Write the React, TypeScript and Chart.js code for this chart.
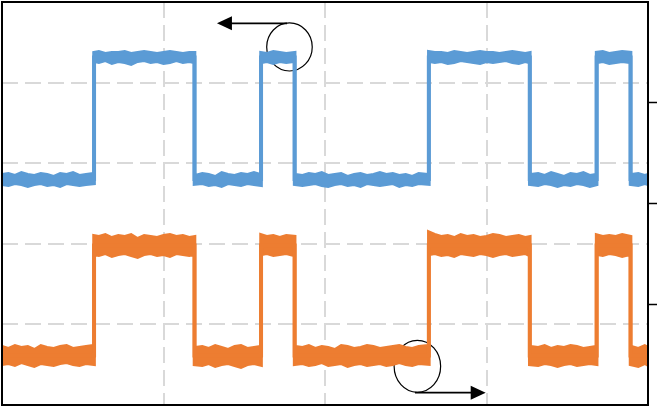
import { useEffect, useRef } from 'react';
import { Chart, registerables } from 'chart.js';

Chart.register(...registerables);

// ---- time samples (x axis, 0..400) ----
const upperTime = [
  0, 4, 8, 12, 16, 20, 24, 28, 32, 36, 40, 44, 48, 52, 56.5,
  56.5, 60, 64, 68, 72, 76, 80, 84, 88, 92, 96, 100, 104, 108, 112, 116, 119.7,
  119.7, 124, 128, 132, 136, 140, 144, 148, 152, 156, 159.9,
  159.9, 164, 168, 172, 176, 181.7,
  181.7, 186, 190, 194, 198, 202, 206, 210, 214, 218, 222, 226, 230, 234, 238, 242, 246, 250, 254, 258, 263.8,
  263.8, 268, 272, 276, 280, 284, 288, 292, 296, 300, 304, 308, 312, 316, 320, 324, 327.3,
  327.3, 332, 336, 340, 344, 348, 352, 356, 360, 364, 367.7,
  367.7, 372, 376, 380, 384, 389.7,
  389.7, 394, 398, 400,
];
const lowerTime = [
  0, 4, 8, 12, 16, 20, 24, 28, 32, 36, 40, 44, 48, 52, 57.5,
  57.5, 60, 64, 68, 72, 76, 80, 84, 88, 92, 96, 100, 104, 108, 112, 116, 118.7,
  118.7, 124, 128, 132, 136, 140, 144, 148, 152, 156, 160.9,
  160.9, 164, 168, 172, 176, 180.7,
  180.7, 186, 190, 194, 198, 202, 206, 210, 214, 218, 222, 226, 230, 234, 238, 242, 246, 250, 254, 258, 264.8,
  264.8, 268, 272, 276, 280, 284, 288, 292, 296, 300, 304, 308, 312, 316, 320, 324, 326.3,
  326.3, 332, 336, 340, 344, 348, 352, 356, 360, 364, 368.7,
  368.7, 372, 376, 380, 384, 388.7,
  388.7, 394, 398, 400,
];
// switching instants (centre of each edge) and nominal levels
const edgeTime = [0, 57.0, 119.2, 160.4, 181.2, 264.3, 326.8, 368.2, 389.2, 400];
const blueLevel = [2.804, 4.311, 2.804, 4.311, 2.804, 4.311, 2.804, 4.311, 2.804, 2.804];
const orangeLevel = [0.614, 1.979, 0.614, 1.979, 0.614, 1.979, 0.614, 1.979, 0.614, 0.614];

// ---- blue trace: upper / lower edge of the noisy band ----
const blueUpper = [
  2.866, 2.878, 2.854, 2.891, 2.866, 2.854, 2.878, 2.866, 2.841, 2.878, 2.866, 2.891, 2.854, 2.866, 2.878,
  4.380, 4.392, 4.367, 4.380, 4.380, 4.392, 4.367, 4.380, 4.392, 4.380, 4.367, 4.380, 4.392, 4.380, 4.367, 4.380, 4.380,
  2.854, 2.878, 2.866, 2.841, 2.891, 2.866, 2.854, 2.878, 2.866, 2.891, 2.866,
  4.380, 4.367, 4.392, 4.380, 4.367, 4.380,
  2.866, 2.854, 2.878, 2.866, 2.891, 2.854, 2.866, 2.878, 2.841, 2.866, 2.878, 2.854, 2.866, 2.891, 2.866, 2.878, 2.854, 2.866, 2.841, 2.878, 2.866,
  4.392, 4.380, 4.380, 4.367, 4.392, 4.380, 4.367, 4.380, 4.392, 4.380, 4.380, 4.367, 4.380, 4.392, 4.380, 4.367, 4.380,
  2.866, 2.878, 2.854, 2.891, 2.866, 2.841, 2.878, 2.866, 2.891, 2.854, 2.866,
  4.380, 4.392, 4.367, 4.380, 4.392, 4.380,
  2.866, 2.878, 2.854, 2.866,
];
const blueLower = [
  2.730, 2.717, 2.742, 2.730, 2.705, 2.730, 2.742, 2.717, 2.730, 2.705, 2.742, 2.730, 2.717, 2.730, 2.742,
  4.256, 4.243, 4.268, 4.231, 4.256, 4.243, 4.218, 4.256, 4.268, 4.243, 4.256, 4.231, 4.243, 4.268, 4.243, 4.256, 4.243,
  2.730, 2.742, 2.717, 2.730, 2.705, 2.742, 2.730, 2.717, 2.742, 2.730, 2.717,
  4.243, 4.256, 4.231, 4.256, 4.243, 4.256,
  2.730, 2.717, 2.730, 2.742, 2.717, 2.705, 2.730, 2.742, 2.717, 2.730, 2.705, 2.742, 2.730, 2.717, 2.730, 2.742, 2.705, 2.730, 2.717, 2.742, 2.730,
  4.256, 4.243, 4.256, 4.231, 4.243, 4.268, 4.256, 4.243, 4.231, 4.256, 4.243, 4.256, 4.268, 4.243, 4.231, 4.256, 4.243,
  2.730, 2.717, 2.742, 2.730, 2.705, 2.730, 2.717, 2.742, 2.730, 2.705, 2.730,
  4.243, 4.256, 4.231, 4.243, 4.256, 4.243,
  2.730, 2.717, 2.742, 2.730,
];

// ---- orange trace: upper / lower edge of the noisy band ----
const orangeUpper = [
  0.732, 0.707, 0.744, 0.720, 0.732, 0.695, 0.744, 0.720, 0.707, 0.732, 0.744, 0.707, 0.720, 0.732, 0.744,
  2.109, 2.097, 2.122, 2.084, 2.109, 2.097, 2.122, 2.072, 2.109, 2.097, 2.084, 2.109, 2.122, 2.097, 2.109, 2.084, 2.097,
  0.720, 0.732, 0.707, 0.744, 0.720, 0.695, 0.732, 0.744, 0.707, 0.720, 0.732,
  2.122, 2.097, 2.109, 2.084, 2.109, 2.097,
  0.732, 0.720, 0.744, 0.707, 0.732, 0.720, 0.695, 0.744, 0.732, 0.707, 0.720, 0.744, 0.732, 0.707, 0.720, 0.732, 0.744, 0.720, 0.707, 0.732, 0.744,
  2.159, 2.122, 2.097, 2.109, 2.084, 2.122, 2.097, 2.109, 2.084, 2.097, 2.122, 2.109, 2.084, 2.097, 2.109, 2.084, 2.097,
  0.732, 0.720, 0.744, 0.707, 0.732, 0.720, 0.744, 0.732, 0.707, 0.720, 0.732,
  2.122, 2.097, 2.109, 2.097, 2.122, 2.097,
  0.732, 0.707, 0.744, 0.720,
];
const orangeLower = [
  0.496, 0.509, 0.484, 0.521, 0.496, 0.471, 0.509, 0.496, 0.484, 0.509, 0.521, 0.496, 0.484, 0.509, 0.496,
  1.861, 1.849, 1.873, 1.836, 1.861, 1.873, 1.849, 1.824, 1.861, 1.873, 1.849, 1.861, 1.836, 1.873, 1.861, 1.849, 1.861,
  0.496, 0.484, 0.509, 0.471, 0.496, 0.509, 0.484, 0.459, 0.496, 0.509, 0.484,
  1.861, 1.873, 1.849, 1.861, 1.873, 1.849,
  0.496, 0.509, 0.484, 0.496, 0.521, 0.484, 0.496, 0.509, 0.471, 0.496, 0.509, 0.484, 0.496, 0.509, 0.484, 0.496, 0.521, 0.496, 0.484, 0.509, 0.496,
  1.861, 1.873, 1.849, 1.861, 1.836, 1.873, 1.861, 1.849, 1.873, 1.861, 1.836, 1.861, 1.873, 1.849, 1.861, 1.873, 1.849,
  0.496, 0.484, 0.509, 0.496, 0.471, 0.496, 0.509, 0.484, 0.496, 0.509, 0.496,
  1.861, 1.849, 1.873, 1.861, 1.836, 1.861,
  0.496, 0.471, 0.509, 0.484,
];

// ---- axes ----
const xMin = 0, xMax = 400, xStep = 100;
const yMin = 0, yMax = 5, yStep = 1;
const y2Min = 0, y2Max = 4, y2Step = 1;

// ---- callouts (data units) ----
const calloutCircles = [
  { x: 178.0, y: 4.442, rx: 14.1, ry: 0.298 },
  { x: 257.2, y: 0.480, rx: 14.4, ry: 0.323 },
];
const calloutArrows = [
  { from: 176.5, to: 133.1, y: 4.736 },
  { from: 255.7, to: 299.5, y: 0.153 },
];

const BLUE = '#5b9bd5';
const ORANGE = '#ed7d31';
const GRID = '#d9d9d9';

const pts = (t: number[], v: number[]) => t.map((x, i) => ({ x, y: v[i] }));

const calloutPlugin = {
  id: 'callouts',
  beforeDatasetsDraw(chart: any) {
    const { ctx, scales } = chart;
    const xs = scales.x, ys = scales.y;
    ctx.save();
    ctx.strokeStyle = '#000';
    ctx.lineWidth = 1.2;
    for (const c of calloutCircles) {
      const cx = xs.getPixelForValue(c.x);
      const cy = ys.getPixelForValue(c.y);
      const rx = Math.abs(xs.getPixelForValue(c.x + c.rx) - cx);
      const ry = Math.abs(ys.getPixelForValue(c.y + c.ry) - cy);
      ctx.beginPath();
      ctx.ellipse(cx, cy, rx, ry, 0, 0, Math.PI * 2);
      ctx.stroke();
    }
    ctx.restore();
  },
  afterDatasetsDraw(chart: any) {
    const { ctx, scales, chartArea } = chart;
    const xs = scales.x, ys = scales.y;
    ctx.save();
    for (const a of calloutArrows) {
      const x0 = xs.getPixelForValue(a.from);
      const x1 = xs.getPixelForValue(a.to);
      const yy = ys.getPixelForValue(a.y);
      const dir = x1 > x0 ? 1 : -1;
      const headLen = 15, headHalf = 7;
      ctx.strokeStyle = '#000';
      ctx.lineWidth = 1.8;
      ctx.beginPath();
      ctx.moveTo(x0, yy);
      ctx.lineTo(x1 - dir * headLen + dir * 1, yy);
      ctx.stroke();
      ctx.fillStyle = '#000';
      ctx.beginPath();
      ctx.moveTo(x1, yy);
      ctx.lineTo(x1 - dir * headLen, yy - headHalf);
      ctx.lineTo(x1 - dir * headLen, yy + headHalf);
      ctx.closePath();
      ctx.fill();
    }
    // plot frame
    ctx.strokeStyle = '#000';
    ctx.lineWidth = 2;
    ctx.strokeRect(chartArea.left, chartArea.top, chartArea.right - chartArea.left, chartArea.bottom - chartArea.top);
    ctx.restore();
  },
};

export default function App() {
  const ref = useRef<HTMLCanvasElement | null>(null);
  useEffect(() => {
    if (!ref.current) return;
    const line = (data: any, color: string, fill: any, width = 2, stepped: any = false) => ({
      data,
      borderColor: color,
      backgroundColor: color,
      borderWidth: width,
      pointRadius: 0,
      tension: 0,
      fill,
      stepped,
    });
    const chart = new Chart(ref.current, {
      type: 'line',
      data: {
        datasets: [
          line(pts(edgeTime, blueLevel), BLUE, false, 4, 'before'),
          line(pts(edgeTime, orangeLevel), ORANGE, false, 4, 'before'),
          line(pts(upperTime, blueUpper), BLUE, false),
          line(pts(lowerTime, blueLower), BLUE, '-1'),
          line(pts(upperTime, orangeUpper), ORANGE, false),
          line(pts(lowerTime, orangeLower), ORANGE, '-1'),
        ],
      },
      options: {
        animation: false,
        responsive: false,
        devicePixelRatio: 1,
        layout: { padding: { left: 2, top: 2, right: 3, bottom: 3 } },
        plugins: { legend: { display: false }, tooltip: { enabled: false } },
        scales: {
          x: {
            type: 'linear',
            min: xMin,
            max: xMax,
            ticks: { display: false, stepSize: xStep },
            grid: {
              color: (c: any) => (c.tick && (c.tick.value === xMin || c.tick.value === xMax) ? 'rgba(0,0,0,0)' : GRID),
              lineWidth: 2,
              drawTicks: false,
            },
            border: { display: false, dash: [16, 7] },
          },
          y: {
            type: 'linear',
            min: yMin,
            max: yMax,
            ticks: { display: false, stepSize: yStep },
            grid: {
              color: (c: any) => (c.tick && (c.tick.value === yMin || c.tick.value === yMax) ? 'rgba(0,0,0,0)' : GRID),
              lineWidth: 2,
              drawTicks: false,
            },
            border: { display: false, dash: [16, 7] },
          },
          y2: {
            type: 'linear',
            position: 'right',
            min: y2Min,
            max: y2Max,
            ticks: { display: false, stepSize: y2Step },
            grid: {
              drawOnChartArea: false,
              drawTicks: true,
              tickLength: 9,
              tickWidth: 1.5,
              tickColor: (c: any) => (c.tick && (c.tick.value === y2Min || c.tick.value === y2Max) ? 'rgba(0,0,0,0)' : '#000'),
            },
            border: { display: false },
          },
        },
      },
      plugins: [calloutPlugin],
    } as any);
    return () => chart.destroy();
  }, []);
  return (
    <div style={{ position: 'absolute', left: 0, top: 0, width: 660, height: 408 }}>
      <canvas ref={ref} width={660} height={408} />
    </div>
  );
}
